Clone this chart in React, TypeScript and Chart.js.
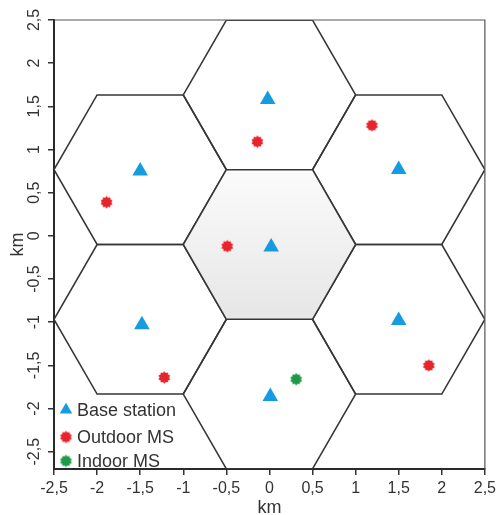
import React, { useEffect, useRef } from "react";
import { Chart, registerables } from "chart.js";

Chart.register(...registerables);

// ---- data ----
const xTickValues = [-2.5, -2, -1.5, -1, -0.5, 0, 0.5, 1, 1.5, 2, 2.5];
const yTickValues = [-2.5, -2, -1.5, -1, -0.5, 0, 0.5, 1, 1.5, 2, 2.5];

// hexagonal cell centres (km); first one is the shaded centre cell
const cellCenterX = [0, 0, 0, 1.5, 1.5, -1.5, -1.5];
const cellCenterY = [-0.1, 1.632, -1.832, 0.766, -0.966, 0.766, -0.966];
// outline corners of a unit (R = 1 km) flat-top hexagon, closed
const hexCornerX = [1, 0.5, -0.5, -1, -0.5, 0.5, 1];
const hexCornerY = [0, 0.866, 0.866, 0, -0.866, -0.866, 0];

const baseStationX = [0.02, -0.02, 0.01, 1.5, 1.5, -1.5, -1.48];
const baseStationY = [-0.13, 1.58, -1.86, 0.77, -0.98, 0.75, -1.03];
const outdoorX = [-0.49, -0.14, -1.22, 1.19, 1.85, -1.89];
const outdoorY = [-0.12, 1.09, -1.64, 1.28, -1.5, 0.39];
const indoorX = [0.31];
const indoorY = [-1.66];

const legendLabels = ["Base station", "Outdoor MS", "Indoor MS"];

const BLUE = "#159ce0";
const RED = "#e8232b";
const GREEN = "#1f9a46";
const INK = "#333333";
const FONT = '"Liberation Sans", Arial, Helvetica, sans-serif';

function makeStar(color: string, ro: number, ri: number) {
  const c = document.createElement("canvas");
  const s = Math.ceil(ro * 2 + 2);
  c.width = s;
  c.height = s;
  const g = c.getContext("2d")!;
  g.fillStyle = color;
  g.beginPath();
  const n = 10;
  for (let i = 0; i < 2 * n; i++) {
    const r = i % 2 ? ri : ro;
    const a = (i * Math.PI) / n - Math.PI / 2;
    const px = s / 2 + r * Math.cos(a);
    const py = s / 2 + r * Math.sin(a);
    if (i === 0) g.moveTo(px, py);
    else g.lineTo(px, py);
  }
  g.closePath();
  g.fill();
  return c;
}

const fmt = (v: number) => String(v).replace(".", ",");

export default function App() {
  const ref = useRef<HTMLCanvasElement | null>(null);

  useEffect(() => {
    if (!ref.current) return;
    const redStar = makeStar(RED, 6.2, 4.8);
    const greenStar = makeStar(GREEN, 6.2, 4.8);

    const hexDatasets = cellCenterX.map((cx, i) => ({
      type: "scatter" as const,
      label: "cell" + i,
      data: hexCornerX.map((dx, k) => ({ x: cx + dx, y: cellCenterY[i] + hexCornerY[k] })),
      showLine: true,
      borderColor: "#363636",
      borderWidth: 1.6,
      pointRadius: 0,
      order: 2,
      fill: i === 0 ? "shape" : false,
      backgroundColor: i === 0
        ? (ctx: any) => {
            const chart = ctx.chart;
            const ys = chart.scales.y;
            if (!chart.chartArea || !ys) return "#eeeeee";
            const top = ys.getPixelForValue(cellCenterY[0] + 0.866);
            const bot = ys.getPixelForValue(cellCenterY[0] - 0.866);
            const grd = chart.ctx.createLinearGradient(0, top, 0, bot);
            grd.addColorStop(0, "#fbfbfb");
            grd.addColorStop(1, "#e6e6e6");
            return grd;
          }
        : "transparent",
    }));

    const frameAndLegend = {
      id: "frameAndLegend",
      afterDraw(chart: any) {
        const { ctx, chartArea: a } = chart;
        ctx.save();
        // top and right frame lines
        ctx.strokeStyle = "#555";
        ctx.lineWidth = 1.2;
        ctx.beginPath();
        ctx.moveTo(a.left, a.top);
        ctx.lineTo(a.right, a.top);
        ctx.lineTo(a.right, a.bottom);
        ctx.stroke();

        // legend inside plot, bottom-left
        const mx = a.left + 12;
        const tx = a.left + 23;
        const rows = [a.bottom - 59, a.bottom - 32, a.bottom - 8];
        ctx.font = "18px " + FONT;
        ctx.fillStyle = INK;
        ctx.textBaseline = "middle";
        ctx.textAlign = "left";
        legendLabels.forEach((lab, i) => {
          const y = rows[i];
          if (i === 0) {
            const r = 7.2;
            ctx.save();
            ctx.fillStyle = BLUE;
            ctx.beginPath();
            ctx.moveTo(mx, y - r);
            ctx.lineTo(mx + r * 0.866, y + r * 0.5);
            ctx.lineTo(mx - r * 0.866, y + r * 0.5);
            ctx.closePath();
            ctx.fill();
            ctx.restore();
          } else {
            const img = i === 1 ? redStar : greenStar;
            ctx.drawImage(img, mx - img.width / 2, y - img.height / 2);
          }
          ctx.fillStyle = INK;
          ctx.fillText(lab, tx, y + 1);
        });
        ctx.restore();
      },
    };

    const chart = new Chart(ref.current, {
      type: "scatter",
      data: {
        datasets: [
          {
            label: legendLabels[0],
            data: baseStationX.map((x, i) => ({ x, y: baseStationY[i] })),
            pointStyle: "triangle",
            pointRadius: 9,
            pointBackgroundColor: BLUE,
            pointBorderColor: BLUE,
            pointBorderWidth: 0,
            order: 0,
          },
          {
            label: legendLabels[1],
            data: outdoorX.map((x, i) => ({ x, y: outdoorY[i] })),
            pointStyle: redStar as any,
            order: 0,
          },
          {
            label: legendLabels[2],
            data: indoorX.map((x, i) => ({ x, y: indoorY[i] })),
            pointStyle: greenStar as any,
            order: 0,
          },
          ...(hexDatasets as any[]),
        ],
      },
      options: {
        responsive: false,
        animation: false,
        layout: { padding: { top: 20, right: 13, left: 0, bottom: 0 } },
        plugins: { legend: { display: false }, tooltip: { enabled: false } },
        scales: {
          x: {
            type: "linear",
            min: -2.5,
            max: 2.5,
            afterBuildTicks: (axis: any) => {
              axis.ticks = xTickValues.map((v) => ({ value: v }));
            },
            afterFit: (axis: any) => {
              axis.height = 46;
            },
            ticks: {
              callback: (v: any) => fmt(Number(v)),
              color: INK,
              font: { family: FONT, size: 16 },
              padding: 4,
              maxRotation: 0,
              autoSkip: false,
            },
            grid: { drawOnChartArea: false, drawTicks: true, tickLength: 6, color: INK, lineWidth: 1.5 },
            border: { display: true, color: "#2a2a2a", width: 2 },
            title: {
              display: true,
              text: "km",
              color: INK,
              font: { family: FONT, size: 18 },
              padding: { top: 0, bottom: -4 },
            },
          },
          y: {
            type: "linear",
            min: -2.7,
            max: 2.5,
            afterBuildTicks: (axis: any) => {
              axis.ticks = yTickValues.map((v) => ({ value: v }));
            },
            afterFit: (axis: any) => {
              axis.width = 54;
            },
            ticks: {
              callback: (v: any) => fmt(Number(v)),
              color: INK,
              font: { family: FONT, size: 16 },
              padding: 0,
              minRotation: 90,
              maxRotation: 90,
              crossAlign: "center",
              autoSkip: false,
            },
            grid: { drawOnChartArea: false, drawTicks: true, tickLength: 6, color: INK, lineWidth: 1.5 },
            border: { display: true, color: "#2a2a2a", width: 2 },
            title: {
              display: true,
              text: "km",
              color: INK,
              font: { family: FONT, size: 18 },
              padding: { top: 7, bottom: 0 },
            },
          },
        },
      },
      plugins: [frameAndLegend],
    } as any);

    return () => chart.destroy();
  }, []);

  return (
    <div style={{ position: "absolute", left: 0, top: 0, width: 500, height: 515, background: "#fff" }}>
      <canvas ref={ref} width={500} height={515} style={{ display: "block" }} />
    </div>
  );
}
